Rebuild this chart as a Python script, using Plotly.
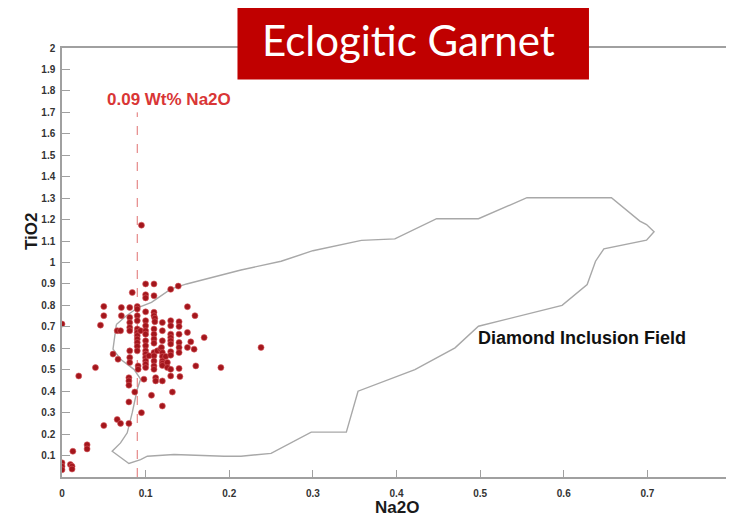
import plotly.graph_objects as go

# ---- data ----
na2o = [0.100, 0.110, 0.084, 0.100, 0.100, 0.110, 0.130, 0.139, 0.050, 0.050,
        0.071, 0.071, 0.081, 0.090, 0.090, 0.100, 0.110, 0.110, 0.150, 0.081,
        0.081, 0.090, 0.090, 0.100, 0.111, 0.111, 0.120, 0.130, 0.130, 0.140,
        0.140, 0.159, 0.046, 0.000, 0.066, 0.070, 0.081, 0.081, 0.090, 0.090,
        0.090, 0.094, 0.100, 0.100, 0.100, 0.110, 0.110, 0.120, 0.130, 0.130,
        0.140, 0.150, 0.170, 0.090, 0.090, 0.090, 0.090, 0.100, 0.100, 0.110,
        0.110, 0.120, 0.130, 0.130, 0.140, 0.140, 0.150, 0.154, 0.158, 0.061,
        0.067, 0.081, 0.081, 0.100, 0.100, 0.100, 0.100, 0.104, 0.110, 0.110,
        0.110, 0.114, 0.118, 0.119, 0.120, 0.120, 0.120, 0.124, 0.130, 0.130,
        0.140, 0.040, 0.081, 0.091, 0.091, 0.100, 0.100, 0.110, 0.110, 0.120,
        0.120, 0.126, 0.126, 0.130, 0.140, 0.160, 0.190, 0.080, 0.080, 0.080,
        0.098, 0.112, 0.112, 0.120, 0.130, 0.141, 0.087, 0.107, 0.132, 0.080,
        0.120, 0.095, 0.066, 0.070, 0.080, 0.050, 0.030, 0.030, 0.013, 0.020,
        0.000, 0.000, 0.000, 0.010, 0.012, 0.012, 0.095, 0.238]
tio2 = [0.900, 0.900, 0.860, 0.850, 0.835, 0.845, 0.875, 0.890, 0.795, 0.752,
        0.790, 0.752, 0.790, 0.795, 0.783, 0.770, 0.768, 0.752, 0.794, 0.744,
        0.720, 0.752, 0.729, 0.729, 0.740, 0.724, 0.720, 0.729, 0.705, 0.724,
        0.702, 0.752, 0.708, 0.713, 0.682, 0.682, 0.697, 0.682, 0.690, 0.674,
        0.659, 0.682, 0.705, 0.682, 0.666, 0.690, 0.666, 0.682, 0.666, 0.650,
        0.666, 0.674, 0.650, 0.643, 0.627, 0.609, 0.588, 0.635, 0.612, 0.643,
        0.624, 0.635, 0.635, 0.620, 0.627, 0.604, 0.604, 0.630, 0.596, 0.573,
        0.549, 0.588, 0.557, 0.588, 0.573, 0.557, 0.541, 0.565, 0.580, 0.565,
        0.541, 0.588, 0.596, 0.604, 0.580, 0.562, 0.541, 0.562, 0.584, 0.568,
        0.580, 0.510, 0.534, 0.518, 0.502, 0.526, 0.510, 0.518, 0.502, 0.530,
        0.520, 0.534, 0.510, 0.502, 0.506, 0.518, 0.510, 0.463, 0.448, 0.428,
        0.456, 0.463, 0.448, 0.448, 0.471, 0.468, 0.396, 0.381, 0.396, 0.350,
        0.331, 0.300, 0.268, 0.250, 0.250, 0.240, 0.150, 0.131, 0.120, 0.471,
        0.066, 0.050, 0.034, 0.058, 0.050, 0.037, 1.174, 0.604]

field_x = [0.065, 0.077, 0.091, 0.107, 0.130, 0.149, 0.214, 0.262, 0.300, 0.358,
           0.398, 0.448, 0.498, 0.556, 0.657, 0.691, 0.699, 0.708, 0.699, 0.648,
           0.638, 0.628, 0.598, 0.498, 0.470, 0.422, 0.354, 0.340, 0.298, 0.250,
           0.214, 0.194, 0.134, 0.102, 0.094, 0.080, 0.060, 0.070, 0.078, 0.084,
           0.090, 0.094, 0.086, 0.070, 0.061, 0.065]
field_y = [0.711, 0.752, 0.790, 0.814, 0.876, 0.900, 0.965, 1.006, 1.055, 1.103,
           1.110, 1.204, 1.204, 1.302, 1.302, 1.193, 1.177, 1.143, 1.104, 1.064,
           1.006, 0.897, 0.800, 0.703, 0.602, 0.501, 0.400, 0.209, 0.209, 0.110,
           0.097, 0.097, 0.105, 0.097, 0.081, 0.063, 0.120, 0.159, 0.206, 0.300,
           0.409, 0.456, 0.502, 0.549, 0.596, 0.711]

cutoff = 0.09
cutoff_top = 1.70

x_ticks = [0, 0.1, 0.2, 0.3, 0.4, 0.5, 0.6, 0.7, 0.8]
x_labels = ["0", "0.1", "0.2", "0.3", "0.4", "0.5", "0.6", "0.7", "0.8"]
y_ticks = [0.1, 0.2, 0.3, 0.4, 0.5, 0.6, 0.7, 0.8, 0.9, 1.0,
           1.1, 1.2, 1.3, 1.4, 1.5, 1.6, 1.7, 1.8, 1.9, 2.0]
y_labels = ["0.1", "0.2", "0.3", "0.4", "0.5", "0.6", "0.7", "0.8", "0.9", "1",
            "1.1", "1.2", "1.3", "1.4", "1.5", "1.6", "1.7", "1.8", "1.9", "2"]

fig = go.Figure()

fig.add_trace(go.Scatter(
    x=field_x, y=field_y, mode="lines",
    line=dict(color="#a8a8a8", width=1.4),
    hoverinfo="skip", showlegend=False))

fig.add_trace(go.Scatter(
    x=[cutoff, cutoff], y=[0, cutoff_top], mode="lines",
    line=dict(color="#e07070", width=1, dash="dash"),
    hoverinfo="skip", showlegend=False))

fig.add_trace(go.Scatter(
    x=na2o, y=tio2, mode="markers",
    marker=dict(size=6, color="#a3161c",
                line=dict(color="rgba(215,90,95,0.6)", width=1)),
    showlegend=False))

axis_font = dict(family="Liberation Sans", size=10, color="#333333", weight="bold")

fig.update_xaxes(
    range=[0, 0.8], tickvals=x_ticks, ticktext=x_labels, automargin=False,
    ticks="inside", ticklen=7, tickcolor="#a0a0a0", tickwidth=1,
    showline=True, linecolor="#a0a0a0", linewidth=1.5, mirror=True,
    showgrid=False, zeroline=False, tickfont=axis_font, ticklabelstandoff=6)
fig.update_yaxes(
    range=[0, 2], tickvals=y_ticks, ticktext=y_labels, automargin=False,
    ticks="inside", ticklen=8, tickcolor="#a0a0a0", tickwidth=1,
    showline=True, linecolor="#a0a0a0", linewidth=1.5, mirror=True,
    showgrid=False, zeroline=False, tickfont=axis_font, ticklabelstandoff=3)

title_font = dict(family="Liberation Sans", size=17, color="#1a1a1a", weight="bold")

fig.add_annotation(text="TiO2", xref="paper", yref="paper", x=-0.0456, y=0.5723,
                   textangle=-90, showarrow=False, font=title_font,
                   xanchor="center", yanchor="middle")
fig.add_annotation(text="Na2O", xref="paper", yref="paper", x=0.5007, y=-0.0711,
                   showarrow=False, font=title_font,
                   xanchor="center", yanchor="middle")

fig.add_annotation(text="0.09 Wt% Na2O", x=0.128, y=1.76, showarrow=False,
                   font=dict(family="Liberation Sans", size=17, color="#d93636",
                             weight="bold"),
                   xanchor="center", yanchor="middle")
fig.add_annotation(text="Diamond Inclusion Field", x=0.6216, y=0.65, showarrow=False,
                   font=dict(family="Liberation Sans", size=18, color="#111111",
                             weight="bold"),
                   xanchor="center", yanchor="middle")

# title banner
fig.add_shape(type="rect", xref="paper", yref="paper",
              x0=0.2623, x1=0.7877, y0=0.9266, y1=1.1107,
              fillcolor="#c00000", line=dict(width=0), layer="above")
fig.add_annotation(text="Eclogitic Garnet", xref="paper", yref="paper",
                   x=0.518, y=1.0175, showarrow=False,
                   font=dict(family="Lato", size=42, color="#ffffff"),
                   xanchor="center", yanchor="middle")

# page body has an 8px margin, so the figure is sized/offset to compensate
fig.update_layout(
    width=726, height=513,
    margin=dict(l=54, r=3, t=40, b=44),
    paper_bgcolor="white", plot_bgcolor="white",
    showlegend=False)

fig.write_html("out.html")
